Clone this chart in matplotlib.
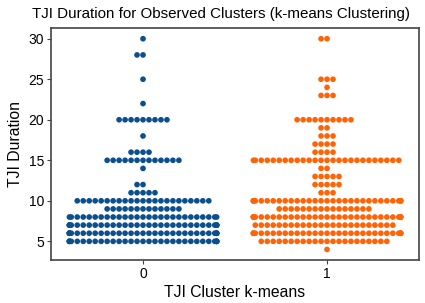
import numpy as np
import pandas as pd
import matplotlib
matplotlib.use('Agg')
import matplotlib.pyplot as plt
import seaborn as sns
import warnings

warnings.filterwarnings('ignore')

plt.rcParams['font.family'] = ['Liberation Sans', 'DejaVu Sans']

# duration values and how many observations sit at each value
cluster0_values = [30, 28, 25, 22, 20, 18, 16, 15, 14, 12, 11, 10, 9, 8, 7, 6, 5]
cluster0_counts = [1, 2, 1, 1, 9, 1, 4, 13, 1, 2, 5, 23, 13, 27, 32, 33, 32]

cluster1_values = [30, 25, 24, 23, 20, 19, 18, 17, 16, 15, 14, 13, 12, 11, 10, 9, 8, 7, 6, 5, 4]
cluster1_counts = [2, 3, 1, 3, 10, 2, 3, 4, 4, 26, 2, 5, 5, 3, 31, 16, 31, 24, 31, 22, 1]

colors = ['#0B4F8E', '#FF6305']

dur0 = np.repeat(cluster0_values, cluster0_counts)
dur1 = np.repeat(cluster1_values, cluster1_counts)
df = pd.DataFrame({
    'cluster': ['0'] * len(dur0) + ['1'] * len(dur1),
    'duration': np.concatenate([dur0, dur1]),
})

fig, ax = plt.subplots(figsize=(4.25, 3.03), dpi=100)
fig.subplots_adjust(left=0.12, right=0.986, top=0.907, bottom=0.142)

sns.swarmplot(data=df, x='cluster', y='duration', hue='cluster',
              palette=colors, size=4.1, linewidth=0, legend=False, ax=ax)

# title sits a bit left of the axes centre, like the original
ax.set_title('TJI Duration for Observed Clusters (k-means Clustering)',
             fontsize=10.9, pad=7, x=0.462)
ax.set_xlabel('TJI Cluster k-means', fontsize=11.3, labelpad=3)
ax.set_ylabel('TJI Duration', fontsize=11.3, labelpad=4)
ax.set_yticks([5, 10, 15, 20, 25, 30])
ax.tick_params(labelsize=10, length=3, color='#444444', pad=2)
for sp in ax.spines.values():
    sp.set_color('#444444')
    sp.set_linewidth(1.2)

fig.savefig('out.png', dpi=100)
